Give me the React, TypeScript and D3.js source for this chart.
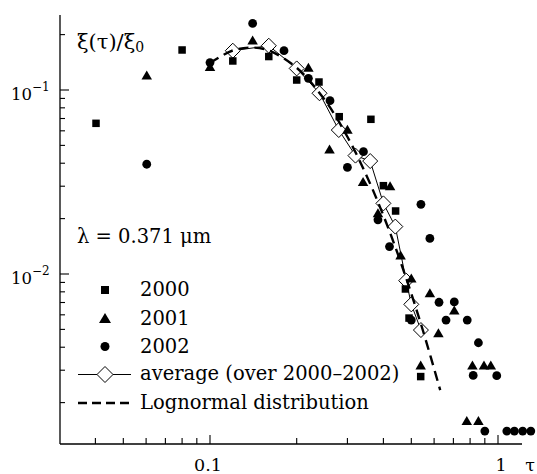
import React from "react";
import * as d3 from "d3";

// ---- data ----
const tau2000 = [0.0402, 0.08, 0.12, 0.16, 0.2, 0.239, 0.281, 0.362, 0.4, 0.441, 0.477, 0.491, 0.539];
const xi2000 = [0.0659, 0.165, 0.1438, 0.152, 0.1133, 0.1105, 0.0716, 0.0693, 0.0302, 0.022, 0.00829, 0.00576, 0.00277];

const tau2001 = [0.0603, 0.1, 0.1406, 0.2196, 0.3, 0.26, 0.34, 0.422, 0.383, 0.459, 0.5, 0.58, 0.705, 0.621, 0.539, 0.815, 0.894, 0.944, 0.779, 0.855];
const xi2001 = [0.1207, 0.1342, 0.187, 0.1328, 0.0611, 0.0478, 0.0318, 0.0302, 0.0215, 0.0127, 0.0095, 0.0079, 0.00637, 0.0048, 0.0032, 0.0032, 0.0032, 0.0032, 0.0016, 0.0016];

const tau2002 = [0.0603, 0.1, 0.1406, 0.1807, 0.2196, 0.261, 0.341, 0.3, 0.383, 0.54, 0.58, 0.42, 0.5, 0.624, 0.705, 0.66, 0.782, 0.855, 0.82, 0.99, 0.9, 1.073, 1.14, 1.218, 1.3];
const xi2002 = [0.0395, 0.141, 0.23, 0.1636, 0.1158, 0.0875, 0.0462, 0.038, 0.0197, 0.0239, 0.0156, 0.0141, 0.00562, 0.00702, 0.00705, 0.00562, 0.00562, 0.00423, 0.00281, 0.0028, 0.0014, 0.0014, 0.0014, 0.0014, 0.0014];

const tauAvg = [0.12, 0.16, 0.2, 0.24, 0.28, 0.32, 0.36, 0.4, 0.44, 0.48, 0.5, 0.54];
const xiAvg = [0.1635, 0.174, 0.131, 0.096, 0.0606, 0.044, 0.0411, 0.0242, 0.0181, 0.0092, 0.00684, 0.00496];

const tauLogn = [0.1, 0.12, 0.14, 0.16, 0.2, 0.25, 0.3, 0.35, 0.4, 0.45, 0.5, 0.55, 0.63];
const xiLogn = [0.14, 0.164, 0.17, 0.164, 0.132, 0.0886, 0.0557, 0.0341, 0.0208, 0.0127, 0.00782, 0.00487, 0.00234];

const xMajor = [0.1, 1];
const xMinor = [0.04, 0.05, 0.06, 0.07, 0.08, 0.09, 0.2, 0.3, 0.4, 0.5, 0.6, 0.7, 0.8, 0.9];
const yMajor = [0.1, 0.01];
const yMinor = [0.2, 0.09, 0.08, 0.07, 0.06, 0.05, 0.04, 0.03, 0.02, 0.009, 0.008, 0.007, 0.006, 0.005, 0.004, 0.003, 0.002];

const legendLabels = ["2000", "2001", "2002", "average (over 2000\u20132002)", "Lognormal distribution"];

const W = 537;
const H = 474;
const FONT = "'DejaVu Serif', serif";

const x = d3.scaleLog().domain([0.1, 1]).range([210, 498]);
const y = d3.scaleLog().domain([0.1, 0.01]).range([90, 274]);

const left = 60;
const right = 522;
const top = 15;
const bottom = 444;

function Square({ cx, cy, s }: { cx: number; cy: number; s: number }) {
  return <rect x={cx - s / 2} y={cy - s / 2} width={s} height={s} fill="#000" />;
}
function Tri({ cx, cy, w, h }: { cx: number; cy: number; w: number; h: number }) {
  return <path d={`M${cx},${cy - h / 2}L${cx + w / 2},${cy + h / 2}L${cx - w / 2},${cy + h / 2}Z`} fill="#000" />;
}
function Circ({ cx, cy, r }: { cx: number; cy: number; r: number }) {
  return <circle cx={cx} cy={cy} r={r} fill="#000" />;
}
function Diamond({ cx, cy, r }: { cx: number; cy: number; r: number }) {
  return (
    <path
      d={`M${cx},${cy - r}L${cx + r},${cy}L${cx},${cy + r}L${cx - r},${cy}Z`}
      fill="#fff"
      stroke="#000"
      strokeWidth={1}
    />
  );
}

export default function App() {
  const avgLine = d3
    .line<number>()
    .x((_, i) => x(tauAvg[i]))
    .y((_, i) => y(xiAvg[i]))(tauAvg.map((t) => t)) as string;
  const lognLine = d3
    .line<number>()
    .x((_, i) => x(tauLogn[i]))
    .y((_, i) => y(xiLogn[i]))
    .curve(d3.curveCatmullRom)(tauLogn.map((t) => t)) as string;

  const legX = 105;
  const legTextX = 140;
  const legY = [290, 318, 346.5, 374.5, 403];
  const legBase = [296, 325, 353, 380, 409];

  return (
    <svg
      width={W}
      height={H}
      style={{ position: "absolute", left: 0, top: 0, background: "#fff" }}
      fontFamily={FONT}
    >
      <rect width={W} height={H} fill="#fff" />
      {/* axes */}
      <line x1={left} y1={top} x2={left} y2={bottom} stroke="#000" strokeWidth={1.3} />
      <line x1={left} y1={bottom} x2={right} y2={bottom} stroke="#000" strokeWidth={1.3} />
      {xMajor.map((t) => (
        <line key={"xM" + t} x1={x(t)} x2={x(t)} y1={bottom} y2={bottom - 9} stroke="#000" strokeWidth={1.1} />
      ))}
      {xMinor.map((t) => (
        <line key={"xm" + t} x1={x(t)} x2={x(t)} y1={bottom} y2={bottom - 6} stroke="#000" strokeWidth={1.1} />
      ))}
      {yMajor.map((v) => (
        <line key={"yM" + v} x1={left} x2={left + 9} y1={y(v)} y2={y(v)} stroke="#000" strokeWidth={1.1} />
      ))}
      {yMinor.map((v) => (
        <line key={"ym" + v} x1={left} x2={left + 5} y1={y(v)} y2={y(v)} stroke="#000" strokeWidth={1.1} />
      ))}

      {/* tick labels */}
      <text x={11} y={y(0.1) + 10} fontSize={16.5}>
        10<tspan dy={-9} fontSize={12}>{"\u22121"}</tspan>
      </text>
      <text x={11} y={y(0.01) + 10} fontSize={16.5}>
        10<tspan dy={-9} fontSize={12}>{"\u22122"}</tspan>
      </text>
      <text x={x(0.1) - 2} y={471} fontSize={17.5} textAnchor="middle">0.1</text>
      <text x={x(1) + 3} y={471} fontSize={17.5} textAnchor="middle">1</text>
      <text x={530} y={471} fontSize={17.5} textAnchor="middle">τ</text>

      {/* axis title */}
      <text x={77} y={49} fontSize={21}>
        ξ(τ)/ξ<tspan dy={3} fontSize={14}>0</tspan>
      </text>
      <text x={77} y={243} fontSize={19.5}>λ = 0.371 μm</text>

      {/* average line + diamonds */}
      <path d={avgLine} fill="none" stroke="#000" strokeWidth={1} />
      {tauAvg.map((t, i) => (
        <Diamond key={"d" + i} cx={x(t)} cy={y(xiAvg[i])} r={7.5} />
      ))}

      {/* scatter */}
      {tau2000.map((t, i) => (
        <Square key={"s" + i} cx={x(t)} cy={y(xi2000[i])} s={7.5} />
      ))}
      {tau2001.map((t, i) => (
        <Tri key={"t" + i} cx={x(t)} cy={y(xi2001[i])} w={10.5} h={9} />
      ))}
      {tau2002.map((t, i) => (
        <Circ key={"c" + i} cx={x(t)} cy={y(xi2002[i])} r={4.4} />
      ))}

      {/* lognormal */}
      <path d={lognLine} fill="none" stroke="#000" strokeWidth={2.4} strokeDasharray="10,6" />

      {/* legend */}
      <Square cx={legX} cy={legY[0]} s={8} />
      <Tri cx={legX} cy={legY[1]} w={12} h={10} />
      <Circ cx={legX} cy={legY[2]} r={4.5} />
      <line x1={78} x2={131} y1={legY[3]} y2={legY[3]} stroke="#000" strokeWidth={1} />
      <Diamond cx={legX} cy={legY[3]} r={8} />
      <line x1={78} x2={131} y1={legY[4]} y2={legY[4]} stroke="#000" strokeWidth={2.4} strokeDasharray="9,5" />
      {legendLabels.map((l, i) => (
        <text key={l} x={legTextX} y={legBase[i]} fontSize={19.5}>
          {l}
        </text>
      ))}
    </svg>
  );
}
